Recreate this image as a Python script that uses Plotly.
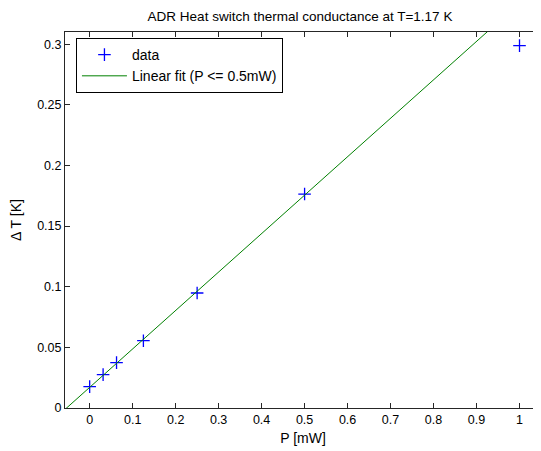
import numpy as np
import plotly.graph_objects as go

# Data
power_mw = [0.0, 0.03125, 0.0625, 0.125, 0.25, 0.5, 1.0]
delta_t_k = [0.0176, 0.0275, 0.0374, 0.0555, 0.0948, 0.1764, 0.2988]
fit_limit_mw = 0.5
fit_x_range = [-0.1, 1.05]

x_ticks = [0, 0.1, 0.2, 0.3, 0.4, 0.5, 0.6, 0.7, 0.8, 0.9, 1]
y_ticks = [0, 0.05, 0.1, 0.15, 0.2, 0.25, 0.3]
x_tick_labels = ["0", "0.1", "0.2", "0.3", "0.4", "0.5", "0.6", "0.7", "0.8", "0.9", "1"]
y_tick_labels = ["0", "0.05", "0.1", "0.15", "0.2", "0.25", "0.3"]

# Linear fit over P <= 0.5 mW
px = np.array(power_mw)
py = np.array(delta_t_k)
mask = px <= fit_limit_mw
slope, intercept = np.polyfit(px[mask], py[mask], 1)
fit_x = np.array(fit_x_range)
fit_y = slope * fit_x + intercept

FONT = "Liberation Sans, Arial, sans-serif"
AX = "#262626"
TXT = 14

# page body has an 8px margin: shrink the figure so that it lands in place
W, H = 533, 443

fig = go.Figure()
fig.add_trace(go.Scatter(
    x=power_mw, y=delta_t_k, mode="markers", name="data",
    marker=dict(symbol="cross-thin", size=9, color="blue",
                line=dict(color="blue", width=1.3)),
    cliponaxis=False,
))
fig.add_trace(go.Scatter(
    x=fit_x, y=fit_y, mode="lines", name="Linear fit (P <= 0.5mW)",
    line=dict(color="#008000", width=1),
))

fig.update_layout(
    width=W, height=H,
    margin=dict(l=57, r=0, t=24, b=43),
    paper_bgcolor="white", plot_bgcolor="white",
    font=dict(family=FONT, size=12, color="#000"),
    title=dict(text="ADR Heat switch thermal conductance at T=1.17 K",
               x=292 / W, xanchor="center", y=1 - 8 / H, yanchor="middle",
               font=dict(size=13.5, family=FONT, color="#000")),
    showlegend=True,
    legend=dict(x=0.023, y=0.984, xanchor="left", yanchor="top",
                bgcolor="white", bordercolor="#000", borderwidth=1,
                font=dict(size=TXT, family=FONT, color="#000"),
                tracegroupgap=0, itemwidth=45),
)
fig.update_xaxes(
    range=[-0.0574, 1.05], tickmode="array", tickvals=x_ticks, ticktext=x_tick_labels,
    ticks="inside", ticklen=5, tickcolor=AX, showline=True, linecolor=AX, linewidth=1,
    mirror="ticks", showgrid=False, zeroline=False,
    tickfont=dict(size=12.5, family=FONT, color="#000"),
    title=dict(text="P [mW]", font=dict(size=TXT, family=FONT, color="#000"), standoff=7),
)
fig.update_yaxes(
    range=[0, 0.31], tickmode="array", tickvals=y_ticks, ticktext=y_tick_labels,
    ticks="inside", ticklen=5, tickcolor=AX, showline=True, linecolor=AX, linewidth=1,
    mirror="ticks", showgrid=False, zeroline=False,
    tickfont=dict(size=12.5, family=FONT, color="#000"),
    title=dict(text="Δ T [K]", font=dict(size=TXT, family=FONT, color="#000"), standoff=17),
)

fig.write_html("out.html")
